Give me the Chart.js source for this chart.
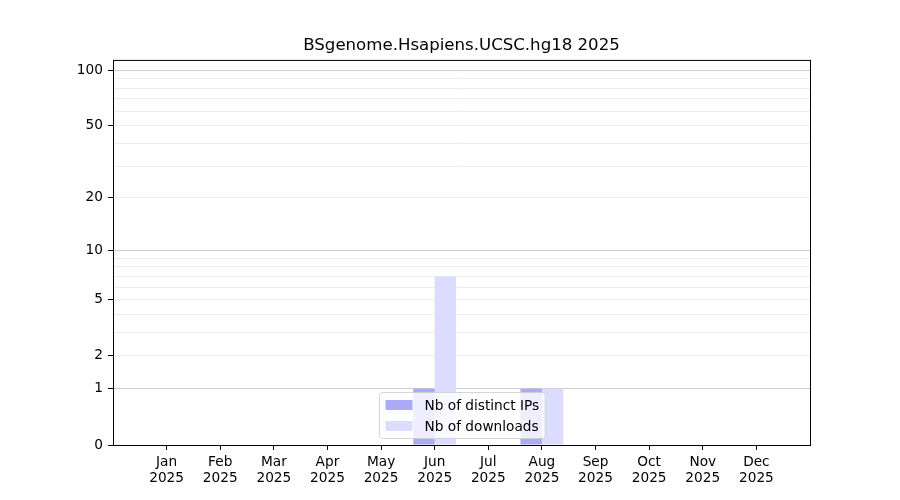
<!DOCTYPE html>
<html>
<head>
<meta charset="utf-8">
<script src="https://cdn.jsdelivr.net/npm/chart.js@4.4.1/dist/chart.umd.min.js"></script>
<style>
	body { margin: 0; background: #fff; }
	#wrap { width: 900px; height: 500px; }
</style>
</head>
<body>
<div id="wrap"><canvas id="chart"></canvas></div>
<script>
const months = ["Jan", "Feb", "Mar", "Apr", "May", "Jun", "Jul", "Aug", "Sep", "Oct", "Nov", "Dec"];
const year = "2025";
const distinctIPs = [0, 0, 0, 0, 0, 1, 0, 1, 0, 0, 0, 0];
const downloads = [0, 0, 0, 0, 0, 7, 0, 1, 0, 0, 0, 0];
const yTickValues = [0, 1, 2, 5, 10, 20, 50, 100];
const yMinorValues = [3, 4, 6, 7, 8, 9, 30, 40, 60, 70, 80, 90];
const yMajorGrid = [1, 10, 100];
const yMax = 113.8;

// y axis is log10(1 + v)
const tf = (v) => Math.log10(1 + v);
const untf = (v) => Math.round(Math.pow(10, v) - 1);

const FONT = "DejaVu Sans";
const TICK_SIZE = 13.7;
Chart.defaults.font.family = FONT;
Chart.defaults.color = "#000";

const framePlugin = {
	id: "frame",
	afterDatasetsDraw(chart) {
		const { ctx, chartArea: a } = chart;
		ctx.save();
		ctx.strokeStyle = "#000";
		ctx.lineWidth = 1;
		ctx.strokeRect(a.left + 0.5, a.top + 0.5, a.right - a.left, a.bottom - a.top);
		ctx.restore();
	},
};

const legendPlugin = {
	id: "innerLegend",
	afterDraw(chart) {
		const { ctx, chartArea: a } = chart;
		const sets = chart.data.datasets;
		ctx.save();
		ctx.font = TICK_SIZE + "px '" + FONT + "'";
		let tw = 0;
		sets.forEach((d) => { tw = Math.max(tw, ctx.measureText(d.label).width); });
		const pad = 6, handle = 27, gap = 12, rowH = 21;
		const w = pad + handle + gap + tw + pad;
		const h = rowH * sets.length + 4;
		const x = Math.round((a.left + a.right) / 2 - w / 2) + 0.5;
		const y = Math.round(a.bottom - 7 - h) + 0.5;
		ctx.beginPath();
		ctx.roundRect(x, y, w, h, 3);
		ctx.fillStyle = "rgba(255,255,255,0.8)";
		ctx.fill();
		ctx.strokeStyle = "rgba(204,204,204,0.8)";
		ctx.lineWidth = 1;
		ctx.stroke();
		ctx.textBaseline = "middle";
		ctx.textAlign = "left";
		sets.forEach((d, i) => {
			const cy = y + 2 + rowH * i + rowH / 2;
			ctx.fillStyle = d.backgroundColor;
			ctx.fillRect(x + pad, cy - 5, handle, 10);
			ctx.fillStyle = "#000";
			ctx.fillText(d.label, x + pad + handle + gap, cy + 1);
		});
		ctx.restore();
	},
};

new Chart(document.getElementById("chart"), {
	type: "bar",
	data: {
		datasets: [
			{
				label: "Nb of distinct IPs",
				data: distinctIPs.map((v, i) => ({ x: i, y: tf(v) })),
				backgroundColor: "#aaaaf8",
				categoryPercentage: 0.8,
				barPercentage: 1.0,
			},
			{
				label: "Nb of downloads",
				data: downloads.map((v, i) => ({ x: i, y: tf(v) })),
				backgroundColor: "#dcdcfe",
				categoryPercentage: 0.8,
				barPercentage: 1.0,
			},
		],
	},
	options: {
		responsive: true,
		maintainAspectRatio: false,
		animation: false,
		layout: { padding: { left: 0, right: 90, top: 0, bottom: 0 } },
		plugins: {
			legend: { display: false },
			tooltip: { enabled: false },
			title: {
				display: true,
				fullSize: false,
				text: "BSgenome.Hsapiens.UCSC.hg18 2025",
				color: "#000",
				font: { size: 16.6, weight: "normal" },
				padding: { top: 36, bottom: 4 },
			},
		},
		scales: {
			x: {
				type: "linear",
				min: -1,
				max: 12,
				offset: false,
				afterFit(scale) { scale.height = 55; },
				afterBuildTicks(scale) {
					scale.ticks = months.map((m, i) => ({ value: i }));
				},
				grid: {
					offset: false,
					drawOnChartArea: false,
					color: "#000",
					tickColor: "#000",
					tickLength: 5,
				},
				border: { display: false },
				ticks: {
					autoSkip: false,
					maxRotation: 0,
					padding: 5,
					font: { size: TICK_SIZE, lineHeight: 1.15 },
					color: "#000",
					callback: function (val) {
						return months[val] ? [months[val], year] : "";
					},
				},
			},
			y: {
				type: "linear",
				min: 0,
				max: tf(yMax),
				afterFit(scale) { scale.width = 113; },
				afterBuildTicks(scale) {
					scale.ticks = yTickValues.concat(yMinorValues)
						.sort((a, b) => a - b)
						.map((v) => ({ value: tf(v) }));
				},
				grid: {
					color: function (c) {
						const v = untf(c.tick.value);
						if (v === 0) return "rgba(0,0,0,0)";
						return yMajorGrid.includes(v) ? "#cccccc" : "#ececec";
					},
					tickColor: function (c) {
						return yTickValues.includes(untf(c.tick.value)) ? "#000" : "rgba(0,0,0,0)";
					},
					tickLength: 5,
				},
				border: { display: false },
				ticks: {
					autoSkip: false,
					padding: 5,
					font: { size: TICK_SIZE },
					color: "#000",
					callback: function (val) {
						const v = untf(val);
						return yTickValues.includes(v) ? String(v) : "";
					},
				},
			},
		},
	},
	plugins: [framePlugin, legendPlugin],
});
</script>
</body>
</html>
